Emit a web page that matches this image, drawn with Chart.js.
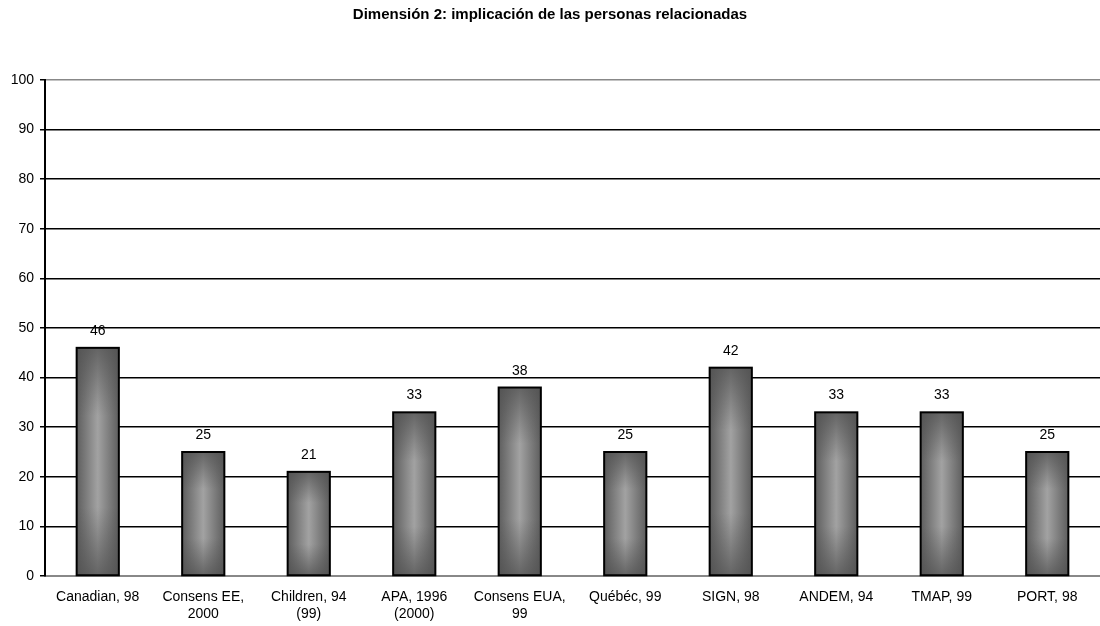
<!DOCTYPE html>
<html>
<head>
<meta charset="utf-8">
<script src="https://cdn.jsdelivr.net/npm/chart.js@4/dist/chart.umd.min.js"></script>
<style>
  html, body { margin: 0; padding: 0; background: #fff; }
  #wrap { width: 1100px; height: 626px; }
</style>
</head>
<body>
<div id="wrap"><canvas id="dimChart"></canvas></div>
<script>
const chartTitle = 'Dimensión 2: implicación de las personas relacionadas';
const guideLabels = [
  'Canadian, 98',
  ['Consens EE,', '2000'],
  ['Children, 94', '(99)'],
  ['APA, 1996', '(2000)'],
  ['Consens EUA,', '99'],
  'Québéc, 99',
  'SIGN, 98',
  'ANDEM, 94',
  'TMAP, 99',
  'PORT, 98'
];
const scores = [46, 25, 21, 33, 38, 25, 42, 33, 33, 25];
const yTicks = [0, 10, 20, 30, 40, 50, 60, 70, 80, 90, 100];

const FONT = '"Liberation Sans", Arial, sans-serif';

// repaint each bar with a shaded cylinder look, then print its value on top
const barShade = {
  id: 'barShade',
  afterDatasetsDraw(chart) {
    const ctx = chart.ctx;
    const meta = chart.getDatasetMeta(0);
    meta.data.forEach((bar, i) => {
      const left = bar.x - bar.width / 2;
      const top = bar.y;
      const h = bar.base - bar.y;
      const w = bar.width;
      ctx.save();
      const hg = ctx.createLinearGradient(left, 0, left + w, 0);
      hg.addColorStop(0, '#5e5e5e');
      hg.addColorStop(0.5, '#a2a2a2');
      hg.addColorStop(1, '#5e5e5e');
      ctx.fillStyle = hg;
      ctx.fillRect(left, top, w, h);
      const vg = ctx.createLinearGradient(0, top, 0, top + h);
      vg.addColorStop(0, 'rgba(80,80,80,0.75)');
      vg.addColorStop(0.3, 'rgba(80,80,80,0)');
      vg.addColorStop(0.7, 'rgba(80,80,80,0)');
      vg.addColorStop(1, 'rgba(80,80,80,0.75)');
      ctx.fillStyle = vg;
      ctx.fillRect(left, top, w, h);
      ctx.lineWidth = 2;
      ctx.strokeStyle = '#000';
      ctx.strokeRect(left, top, w, h);

      ctx.fillStyle = '#000';
      ctx.font = '14px ' + FONT;
      ctx.textAlign = 'center';
      ctx.textBaseline = 'alphabetic';
      ctx.fillText(String(scores[i]), bar.x, top - 13);
      ctx.restore();
    });
  }
};

new Chart(document.getElementById('dimChart'), {
  type: 'bar',
  data: {
    labels: guideLabels,
    datasets: [{
      data: scores,
      backgroundColor: '#777',
      borderColor: '#000',
      borderWidth: 2,
      barPercentage: 0.4,
      categoryPercentage: 1
    }]
  },
  options: {
    responsive: true,
    maintainAspectRatio: false,
    animation: false,
    layout: { padding: { left: 0, right: 0, top: 0, bottom: 0 } },
    plugins: {
      legend: { display: false },
      tooltip: { enabled: false },
      title: {
        display: true,
        text: chartTitle,
        color: '#000',
        font: { family: FONT, size: 15, weight: 'bold' },
        padding: { top: 6, bottom: 56 }
      }
    },
    scales: {
      x: {
        grid: { display: false },
        border: { display: true, color: '#888', width: 2 },
        ticks: {
          color: '#000',
          font: { family: FONT, size: 14 },
          padding: 5,
          maxRotation: 0,
          autoSkip: false
        },
        afterFit: s => { s.height = 50; }
      },
      y: {
        min: 0,
        max: 100,
        afterBuildTicks: s => { s.ticks = yTicks.map(v => ({ value: v })); },
        grid: {
          color: c => (c.tick && (c.tick.value === 100 || c.tick.value === 0)) ? '#888' : '#000',
          lineWidth: 1.5,
          tickLength: 5,
          tickColor: '#000'
        },
        border: { display: true, color: '#000', width: 2 },
        ticks: {
          color: '#000',
          font: { family: FONT, size: 14 },
          padding: 6
        },
        afterFit: s => { s.width = 45; }
      }
    }
  },
  plugins: [barShade]
});
</script>
</body>
</html>
